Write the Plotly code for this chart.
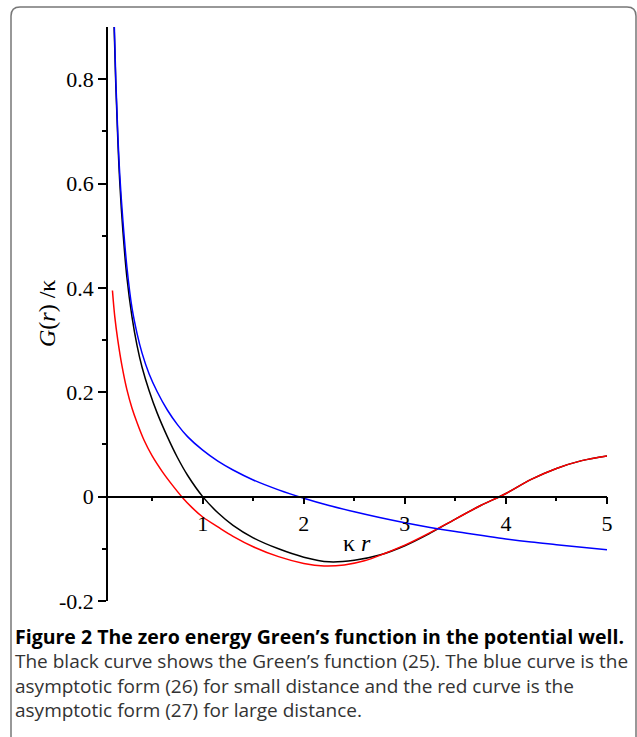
import plotly.graph_objects as go

# ---- data ----
black_x = [0.12, 0.14, 0.16, 0.18, 0.21, 0.25, 0.30, 0.35, 0.40, 0.47, 0.55, 0.65, 0.75, 0.85,
           1.0, 1.15, 1.3, 1.5, 1.75, 2.0, 2.25, 2.5, 2.75, 3.0, 3.25, 3.5, 3.75, 4.0, 4.25,
           4.5, 4.75, 5.0]
black_y = [0.925, 0.79, 0.685, 0.60, 0.51, 0.42, 0.345, 0.29, 0.248, 0.203, 0.160, 0.115, 0.075,
           0.041, 0.0, -0.031, -0.055, -0.079, -0.100, -0.116, -0.125, -0.122, -0.112, -0.094,
           -0.070, -0.043, -0.017, 0.006, 0.033, 0.054, 0.069, 0.078]

red_x = [0.107, 0.13, 0.16, 0.20, 0.25, 0.30, 0.35, 0.42, 0.50, 0.60, 0.70, 0.792, 0.90, 1.0,
         1.15, 1.3, 1.5, 1.75, 2.0, 2.2, 2.4, 2.6, 2.8, 3.0, 3.25, 3.5, 3.75, 4.0, 4.25, 4.5,
         4.75, 5.0]
red_y = [0.395, 0.345, 0.30, 0.252, 0.205, 0.17, 0.142, 0.108, 0.078, 0.048, 0.022, 0.0, -0.022,
         -0.039, -0.058, -0.076, -0.096, -0.115, -0.128, -0.133, -0.131, -0.123, -0.109, -0.093,
         -0.069, -0.043, -0.017, 0.006, 0.033, 0.054, 0.069, 0.078]

blue_x = [0.12, 0.14, 0.16, 0.18, 0.21, 0.25, 0.30, 0.35, 0.40, 0.47, 0.55, 0.65, 0.75, 0.85,
          1.0, 1.15, 1.3, 1.5, 1.75, 2.0, 2.25, 2.5, 2.75, 3.0, 3.25, 3.5, 3.75, 4.0, 4.25,
          4.5, 4.75, 5.0]
blue_y = [0.94, 0.80, 0.695, 0.615, 0.53, 0.44, 0.362, 0.313, 0.275, 0.235, 0.201, 0.166, 0.138,
          0.115, 0.089, 0.068, 0.051, 0.032, 0.013, -0.003, -0.017, -0.029, -0.040, -0.050,
          -0.059, -0.067, -0.074, -0.081, -0.087, -0.092, -0.097, -0.102]

x_ticks = [1, 2, 3, 4, 5]
x_ticktext = ["1", "2", "3", "4", "5"]
y_ticks = [-0.2, 0, 0.2, 0.4, 0.6, 0.8]
y_ticktext = ["-0.2", "0", "0.2", "0.4", "0.6", "0.8"]

caption_title = "Figure 2 The zero energy Green’s function in the potential well."
caption_lines = [
    "The black curve shows the Green’s function (25). The blue curve is the",
    "asymptotic form (26) for small distance and the red curve is the",
    "asymptotic form (27) for large distance.",
]

# ---- layout geometry ----
W, H = 637, 737
ML, MR, MT, MB = 108, 30, 27, 136
PW, PH = W - ML - MR, H - MT - MB
XR = [0.063, 5.0]
YR = [-0.2, 0.9]


def px(xp):
    return (xp - ML) / PW


def py(yp):
    return (H - MB - yp) / PH


SERIF = "Liberation Serif"
SANS = "Open Sans"

fig = go.Figure()
for xs, ys, col in [(black_x, black_y, "#000000"), (red_x, red_y, "#ff0000"), (blue_x, blue_y, "#0000ff")]:
    fig.add_trace(go.Scatter(x=xs, y=ys, mode="lines",
                             line=dict(color=col, width=1.5, shape="spline", smoothing=1.0),
                             showlegend=False, hoverinfo="skip"))

fig.update_layout(
    width=W, height=H,
    margin=dict(l=ML, r=MR, t=MT, b=MB, pad=0),
    paper_bgcolor="white", plot_bgcolor="white",
    showlegend=False,
    xaxis=dict(range=XR, showgrid=False, zeroline=False, showline=True, linecolor="black",
               linewidth=1.6, anchor="free", position=(0 - YR[0]) / (YR[1] - YR[0]),
               tickmode="array", tickvals=x_ticks, ticktext=x_ticktext,
               ticks="outside", ticklen=7, tickwidth=1.5, tickcolor="black",
               tickfont=dict(family=SERIF, size=22, color="black"),
               minor=dict(tickmode="array", tickvals=[0.5, 1.5, 2.5, 3.5, 4.5], ticks="outside",
                          ticklen=4, tickwidth=1.5, tickcolor="black"),
               fixedrange=True),
    yaxis=dict(range=YR, showgrid=False, zeroline=False, showline=True, linecolor="black",
               linewidth=1.6, tickmode="array", tickvals=y_ticks, ticktext=y_ticktext,
               ticks="outside", ticklen=8, tickwidth=1.5, tickcolor="black",
               tickfont=dict(family=SERIF, size=22, color="black"),
               minor=dict(tickmode="array", tickvals=[-0.1, 0.1, 0.3, 0.5, 0.7], ticks="outside",
                          ticklen=4, tickwidth=1.5, tickcolor="black"),
               fixedrange=True),
)

annotations = [
    dict(text="<i>G</i>(<i>r</i>) /κ", x=px(47), y=py(314), xref="paper", yref="paper",
         textangle=-90, showarrow=False, font=dict(family=SERIF, size=24, color="black"),
         xanchor="center", yanchor="middle"),
    dict(text="κ <i>r</i>", x=px(357), y=py(543), xref="paper", yref="paper",
         showarrow=False, font=dict(family=SERIF, size=24, color="black"),
         xanchor="center", yanchor="middle"),
    dict(text="<b>" + caption_title + "</b>", x=px(13), y=py(636), xref="paper", yref="paper",
         showarrow=False, font=dict(family=SANS, size=19.5, color="black"),
         xanchor="left", yanchor="middle"),
]
for i, line in enumerate(caption_lines):
    annotations.append(dict(text=line, x=px(13), y=py(661 + 24.5 * i), xref="paper", yref="paper",
                            showarrow=False, font=dict(family=SANS, size=19, color="#333333"),
                            xanchor="left", yanchor="middle"))
fig.update_layout(annotations=annotations)

# rounded figure frame
x0, x1, y0, y1, r = px(11), px(636), py(7), py(760), 9
rx, ry = r / PW, r / PH
path = (f"M {x0},{y1} L {x0},{y0 - ry} Q {x0},{y0} {x0 + rx},{y0} "
        f"L {x1 - rx},{y0} Q {x1},{y0} {x1},{y0 - ry} L {x1},{y1}")
fig.add_shape(type="path", path=path, xref="paper", yref="paper",
              line=dict(color="#777777", width=1.5), layer="below")

fig.write_html("out.html")
